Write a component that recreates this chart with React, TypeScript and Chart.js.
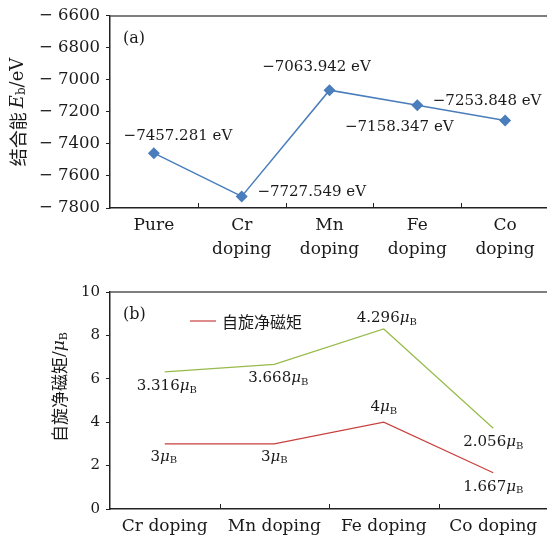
import React, { useEffect, useRef } from "react";
import { Chart, registerables } from "chart.js";
Chart.register(...registerables);

// ---------- data ----------
const categoriesA = [["Pure"], ["Cr", "doping"], ["Mn", "doping"], ["Fe", "doping"], ["Co", "doping"]];
const bindingEnergy = [-7457.281, -7727.549, -7063.942, -7158.347, -7253.848];
const energyLabels = ["−7457.281 eV", "−7727.549 eV", "−7063.942 eV", "−7158.347 eV", "−7253.848 eV"];
const yTicksA = [-7800, -6600, 200];

const categoriesB = ["Cr doping", "Mn doping", "Fe doping", "Co doping"];
const spinMoment = [3, 3, 4, 1.667];
const spinLabels = ["3", "3", "4", "1.667"];
const extraMoment = [3.316, 3.668, 4.296, 2.056];
const extraLabels = ["3.316", "3.668", "4.296", "2.056"];
const yTicksB = [0, 10, 2];

// ---------- label offsets (style) ----------
const offA = [[24, -17], [70, -4], [-13, -23], [-18, 22], [-18, -19]];
const offSpin = [[-1, 13], [0, 13], [0, -15], [0, 14]];
const offExtra = [[2, 14], [4, 14], [3, -11], [0, 14]];

const SERIF = "'DejaVu Serif'";
const CJK = "'Noto Sans CJK SC'";
const TXT = "#1a1a1a";
const BLUE = "#4a7dbb";
const RED = "#c8403c";
const GREEN = "#96bb4a";
const CWA = 555;
const CWB = 549;

type Run = { t: string; font: string; dy?: number };

function runsWidth(ctx: CanvasRenderingContext2D, runs: Run[]) {
  let w = 0;
  for (const r of runs) {
    ctx.font = r.font;
    w += ctx.measureText(r.t).width;
  }
  return w;
}

function drawRuns(ctx: CanvasRenderingContext2D, runs: Run[], x: number, y: number, align: "center" | "left" = "center") {
  const w = runsWidth(ctx, runs);
  let cx = align === "center" ? x - w / 2 : x;
  ctx.textBaseline = "middle";
  ctx.textAlign = "left";
  ctx.fillStyle = TXT;
  for (const r of runs) {
    ctx.font = r.font;
    ctx.fillText(r.t, cx, y + (r.dy || 0));
    cx += ctx.measureText(r.t).width;
  }
}

function muRuns(num: string, size = 15): Run[] {
  return [
    { t: num, font: `${size}px ${SERIF}` },
    { t: "μ", font: `italic ${size}px ${SERIF}` },
    { t: "B", font: `${Math.round(size * 0.68)}px ${SERIF}`, dy: 4 },
  ];
}

function frame(chart: any) {
  const { ctx, chartArea } = chart;
  const xs = chart.scales.x;
  ctx.save();
  ctx.strokeStyle = "#555";
  ctx.lineWidth = 1.5;
  ctx.beginPath();
  ctx.moveTo(chartArea.left, chartArea.top);
  ctx.lineTo(chartArea.right, chartArea.top);
  ctx.stroke();
  ctx.strokeStyle = "#222";
  ctx.lineWidth = 1;
  const n = xs.ticks.length;
  for (let i = 1; i < n; i++) {
    const x = Math.round((xs.getPixelForValue(i - 1) + xs.getPixelForValue(i)) / 2) + 0.5;
    ctx.beginPath();
    ctx.moveTo(x, chartArea.bottom);
    ctx.lineTo(x, chartArea.bottom - 5);
    ctx.stroke();
  }
  ctx.restore();
}

const plugA = {
  id: "plugA",
  afterDraw(chart: any) {
    const { ctx, chartArea } = chart;
    frame(chart);
    ctx.save();
    const meta = chart.getDatasetMeta(0);
    meta.data.forEach((p: any, i: number) => {
      drawRuns(ctx, [{ t: energyLabels[i], font: `15px ${SERIF}` }], p.x + offA[i][0], p.y + offA[i][1]);
    });
    drawRuns(ctx, [{ t: "(a)", font: `16px ${SERIF}` }], chartArea.left + 13, chartArea.top + 23, "left");
    ctx.translate(18, (chartArea.top + chartArea.bottom) / 2);
    ctx.rotate(-Math.PI / 2);
    drawRuns(ctx, [
      { t: "结合能 ", font: `18px ${CJK}` },
      { t: "E", font: `italic 18px ${SERIF}` },
      { t: "b", font: `12px ${SERIF}`, dy: 4 },
      { t: "/eV", font: `18px ${SERIF}` },
    ], 0, 0);
    ctx.restore();
  },
};

const plugB = {
  id: "plugB",
  afterDraw(chart: any) {
    const { ctx, chartArea } = chart;
    frame(chart);
    ctx.save();
    const m0 = chart.getDatasetMeta(0);
    const m1 = chart.getDatasetMeta(1);
    m0.data.forEach((p: any, i: number) => {
      drawRuns(ctx, muRuns(spinLabels[i]), p.x + offSpin[i][0], p.y + offSpin[i][1]);
    });
    m1.data.forEach((p: any, i: number) => {
      drawRuns(ctx, muRuns(extraLabels[i]), p.x + offExtra[i][0], p.y + offExtra[i][1]);
    });
    drawRuns(ctx, [{ t: "(b)", font: `16px ${SERIF}` }], chartArea.left + 13, chartArea.top + 23, "left");
    // legend
    const ly = chartArea.top + 29;
    ctx.strokeStyle = RED;
    ctx.lineWidth = 1.2;
    ctx.beginPath();
    ctx.moveTo(190, ly);
    ctx.lineTo(216, ly);
    ctx.stroke();
    drawRuns(ctx, [{ t: chart.data.datasets[0].label, font: `16px ${CJK}` }], 222, ly + 1, "left");
    ctx.translate(60, 387 - 268);
    ctx.rotate(-Math.PI / 2);
    drawRuns(ctx, [
      { t: "自旋净磁矩", font: `17px ${CJK}` },
      { t: "/", font: `17px ${SERIF}` },
      { t: "μ", font: `italic 17px ${SERIF}` },
      { t: "B", font: `11px ${SERIF}`, dy: 4 },
    ], 0, 0);
    ctx.restore();
  },
};

function axisCommon(xHeight: number) {
  return {
    x: {
      offset: true,
      grid: { display: true, drawOnChartArea: false, drawTicks: false, offset: true },
      border: { display: true, color: "#222", width: 1.5 },
      ticks: { color: TXT, font: { family: SERIF, size: 17, lineHeight: 1.4 }, padding: 6, maxRotation: 0, autoSkip: false },
      afterFit: (s: any) => { s.height = xHeight; s.paddingLeft = 0; s.paddingRight = 0; },
    },
  };
}

export default function App() {
  const refA = useRef<HTMLCanvasElement>(null);
  const refB = useRef<HTMLCanvasElement>(null);
  useEffect(() => {
    const a = new Chart(refA.current!, {
      type: "line",
      data: {
        labels: categoriesA as any,
        datasets: [{
          label: "结合能",
          data: bindingEnergy,
          borderColor: BLUE,
          backgroundColor: BLUE,
          borderWidth: 1.5,
          pointStyle: "rectRot",
          pointRadius: 6,
          pointBorderWidth: 0,
        }],
      },
      options: {
        responsive: false,
        animation: false,
        layout: { padding: { top: 12, left: 0, right: 1, bottom: 0 } },
        plugins: { legend: { display: false }, tooltip: { enabled: false } },
        scales: {
          ...axisCommon(60),
          y: {
            min: yTicksA[0], max: yTicksA[1],
            ticks: {
              stepSize: yTicksA[2], color: TXT, padding: 6,
              font: { family: SERIF, size: 16.5 },
              callback: (v: any) => (v < 0 ? "− " + Math.abs(v) : String(v)),
            },
            grid: { display: true, drawOnChartArea: false, drawTicks: true, tickLength: 4, color: "#222" },
            border: { display: true, color: "#222", width: 1.5 },
            afterFit: (s: any) => { s.width = 110; },
          },
        },
      } as any,
      plugins: [plugA],
    });
    const b = new Chart(refB.current!, {
      type: "line",
      data: {
        labels: categoriesB,
        datasets: [
          { label: "自旋净磁矩", data: spinMoment, borderColor: RED, borderWidth: 1.2, pointRadius: 0, fill: false },
          { label: "", data: extraMoment, borderColor: GREEN, borderWidth: 1.2, pointRadius: 0, fill: false },
        ],
      },
      options: {
        responsive: false,
        animation: false,
        layout: { padding: { top: 24, left: 0, right: 1, bottom: 0 } },
        plugins: { legend: { display: false }, tooltip: { enabled: false } },
        scales: {
          ...axisCommon(29),
          y: {
            stacked: true,
            min: yTicksB[0], max: yTicksB[1],
            ticks: { stepSize: yTicksB[2], color: TXT, padding: 6, font: { family: SERIF, size: 15 } },
            grid: { display: true, drawOnChartArea: false, drawTicks: true, tickLength: 4, color: "#222" },
            border: { display: true, color: "#222", width: 1.5 },
            afterFit: (s: any) => { s.width = 110; },
          },
        },
      } as any,
      plugins: [plugB],
    });
    return () => { a.destroy(); b.destroy(); };
  }, []);
  return (
    <div style={{ position: "absolute", left: 0, top: 0, width: 547, height: 538, overflow: "hidden", background: "#fff" }}>
      <canvas ref={refA} width={CWA} height={268} style={{ position: "absolute", left: 0, top: 0, width: CWA, height: 268 }} />
      <canvas ref={refB} width={CWB} height={270} style={{ position: "absolute", left: 0, top: 268, width: CWB, height: 270 }} />
    </div>
  );
}
